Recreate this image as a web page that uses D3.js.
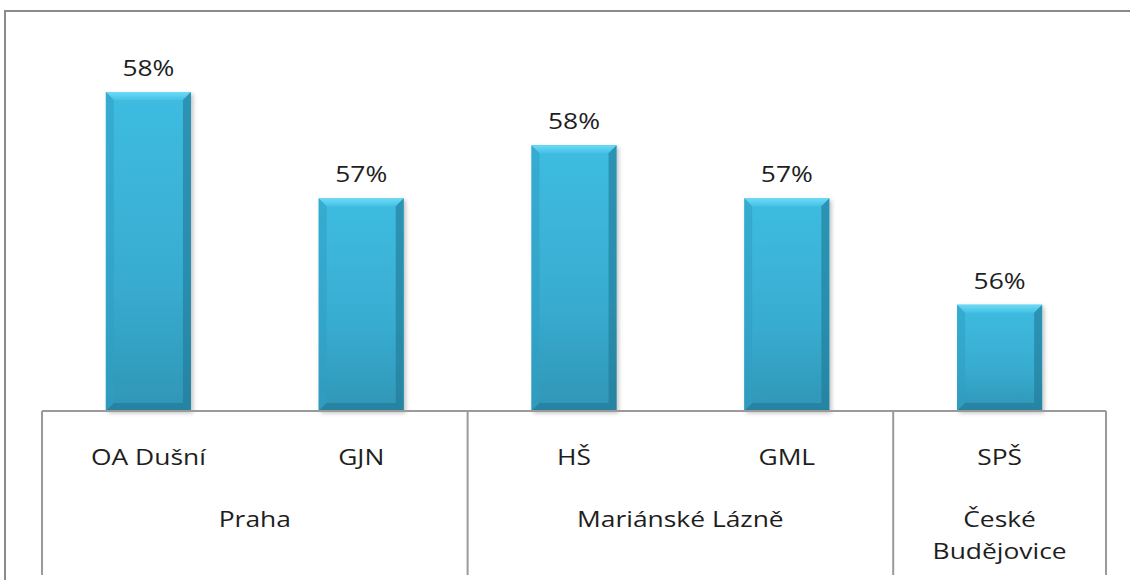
<!DOCTYPE html>
<html>
<head>
<meta charset="utf-8">
<script src="https://cdn.jsdelivr.net/npm/d3@7.9.0/dist/d3.min.js"></script>
<style>
  body { margin: 0; background: #fff; }
  svg { display: block; }
  text { font-family: "Open Sans", sans-serif; fill: #1e1e1e; }
</style>
</head>
<body>
<svg id="chart" width="1130" height="580"></svg>
<script>
// data
const schools = ["OA Dušní", "GJN", "HŠ", "GML", "SPŠ"];
const cities = ["Praha", "Praha", "Mariánské Lázně", "Mariánské Lázně", "České Budějovice"];
const values = [0.58, 0.57, 0.575, 0.57, 0.56];
const valueLabels = ["58%", "57%", "58%", "57%", "56%"];
const cityGroups = [["Praha"], ["Mariánské Lázně"], ["České", "Budějovice"]];
const citySpans = [2, 2, 1];

const svg = d3.select("#chart");
const left = 42, right = 1106, axisY = 411, bottom = 575;
const sx = 1.2; // text looks horizontally stretched in the original

const x = d3.scaleBand().domain(schools).range([left, right]).paddingInner(0.6).paddingOuter(0.3);
const y = d3.scaleLinear().domain([0.55, 0.58]).range([axisY, 92]);
const step = x.step();

// outer frame
svg.append("path")
  .attr("d", `M5,580 V11 H1130`)
  .attr("fill", "none").attr("stroke", "#8a8a8a").attr("stroke-width", 2);

const defs = svg.append("defs");
const g1 = defs.append("linearGradient").attr("id", "body").attr("x1", 0).attr("y1", 0).attr("x2", 0).attr("y2", 1);
g1.append("stop").attr("offset", "0%").attr("stop-color", "#3fbce1");
g1.append("stop").attr("offset", "60%").attr("stop-color", "#38acd0");
g1.append("stop").attr("offset", "100%").attr("stop-color", "#2f96b6");
const g2 = defs.append("linearGradient").attr("id", "topb").attr("x1", 0).attr("y1", 0).attr("x2", 0).attr("y2", 1);
g2.append("stop").attr("offset", "0%").attr("stop-color", "#6edaf5");
g2.append("stop").attr("offset", "100%").attr("stop-color", "#44c2e6");
const filt = defs.append("filter").attr("id", "shadow").attr("x", "-10%").attr("y", "-10%").attr("width", "130%").attr("height", "130%");
filt.append("feDropShadow").attr("dx", 2).attr("dy", 2).attr("stdDeviation", 2).attr("flood-color", "#000").attr("flood-opacity", 0.25);

// bars
const b = 8;
const bars = svg.selectAll("g.bar").data(values).enter().append("g").attr("class", "bar")
  .attr("transform", (d, i) => `translate(${x(schools[i])},${y(d)})`);
bars.append("rect")
  .attr("width", x.bandwidth()).attr("height", d => axisY - y(d))
  .attr("fill", "url(#body)").attr("filter", "url(#shadow)");
// bevels
bars.append("path").attr("fill", "url(#topb)")
  .attr("d", d => { const w = x.bandwidth(); return `M0,0 H${w} L${w - b},${b} H${b} Z`; });
bars.append("path").attr("fill", "#2f9fc2").attr("opacity", 0.55)
  .attr("d", d => { const h = axisY - y(d); return `M0,0 L${b},${b} V${h - b} L0,${h} Z`; });
bars.append("path").attr("fill", "#1f7894").attr("opacity", 0.6)
  .attr("d", d => { const w = x.bandwidth(), h = axisY - y(d); return `M${w},0 L${w - b},${b} V${h - b} L${w},${h} Z`; });
bars.append("path").attr("fill", "#1f7590").attr("opacity", 0.55)
  .attr("d", d => { const w = x.bandwidth(), h = axisY - y(d); return `M0,${h} L${b},${h - b} H${w - b} L${w},${h} Z`; });

// value labels
svg.selectAll("text.val").data(values).enter().append("text").attr("class", "val")
  .attr("transform", (d, i) => `translate(${x(schools[i]) + x.bandwidth() / 2},${y(d) - 16}) scale(${sx},1)`)
  .attr("text-anchor", "middle").attr("font-size", 22)
  .text((d, i) => valueLabels[i]);

// axis and group lines
svg.append("line").attr("x1", left).attr("x2", right).attr("y1", axisY).attr("y2", axisY)
  .attr("stroke", "#9a9a9a").attr("stroke-width", 2);
let acc = 0;
const seps = [0];
citySpans.forEach(s => { acc += s; seps.push(acc); });
svg.selectAll("line.sep").data(seps).enter().append("line").attr("class", "sep")
  .attr("x1", d => left + d * step).attr("x2", d => left + d * step)
  .attr("y1", axisY).attr("y2", bottom)
  .attr("stroke", "#9a9a9a").attr("stroke-width", 2);

// category labels
svg.selectAll("text.cat").data(schools).enter().append("text").attr("class", "cat")
  .attr("transform", d => `translate(${x(d) + x.bandwidth() / 2},465) scale(${sx},1)`)
  .attr("text-anchor", "middle").attr("font-size", 22)
  .text(d => d);

// city labels
cityGroups.forEach((lines, gi) => {
  const cx = left + (seps[gi] + seps[gi + 1]) / 2 * step;
  lines.forEach((ln, li) => {
    svg.append("text").attr("class", "city").attr("text-anchor", "middle").attr("font-size", 22)
      .attr("transform", `translate(${cx},${527 + li * 32}) scale(${sx},1)`)
      .text(ln);
  });
});
</script>
</body>
</html>
